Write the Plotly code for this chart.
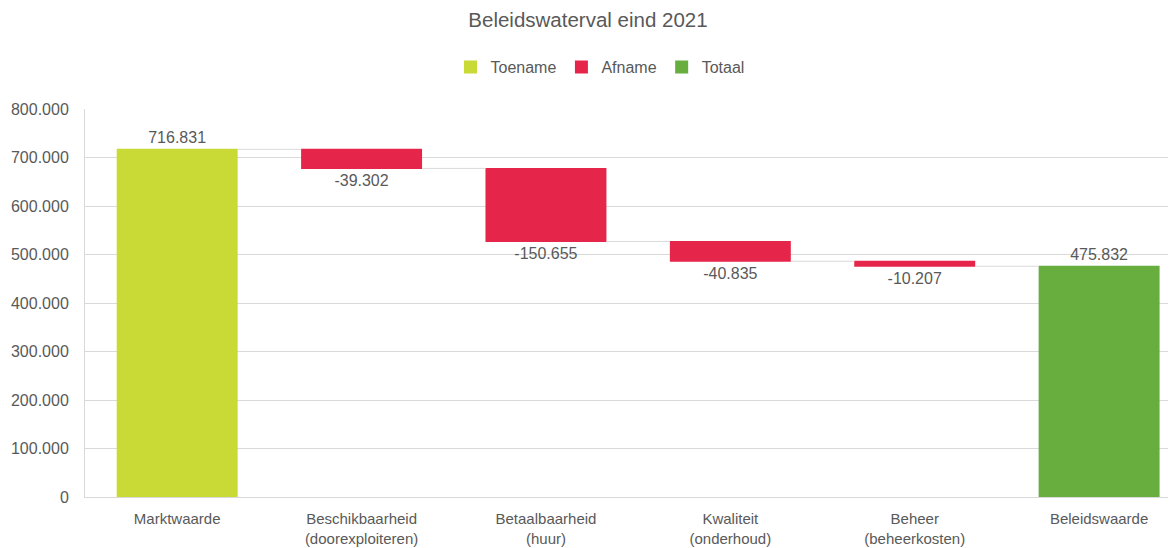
import plotly.graph_objects as go

categories = [
    "Marktwaarde",
    "Beschikbaarheid<br>(doorexploiteren)",
    "Betaalbaarheid<br>(huur)",
    "Kwaliteit<br>(onderhoud)",
    "Beheer<br>(beheerkosten)",
    "Beleidswaarde",
]
values = [716831, -39302, -150655, -40835, -10207, 475832]
measures = ["relative", "relative", "relative", "relative", "relative", "total"]
legend_names = ["Toename", "Afname", "Totaal"]
legend_colors = ["#C9DA37", "#E5264A", "#67AE3F"]
y_ticks = [0, 100000, 200000, 300000, 400000, 500000, 600000, 700000, 800000]

labels = [f"{v:,}".replace(",", ".") for v in values]

TXT = "#595959"
GRID = "#D9D9D9"
FONT = "Liberation Sans, Arial, sans-serif"

# page body has an 8px margin, so the figure is 8px smaller each way
W, H = 1168, 540

fig = go.Figure()
fig.add_trace(go.Waterfall(
    x=categories,
    y=values,
    measure=measures,
    text=labels,
    textposition="outside",
    textfont=dict(color=TXT, size=16, family=FONT),
    cliponaxis=False,
    constraintext="none",
    increasing=dict(marker=dict(color=legend_colors[0])),
    decreasing=dict(marker=dict(color=legend_colors[1])),
    totals=dict(marker=dict(color=legend_colors[2])),
    connector=dict(mode="between", line=dict(color=GRID, width=1)),
    showlegend=False,
))

for name, col in zip(legend_names, legend_colors):
    fig.add_trace(go.Scatter(
        x=[None], y=[None], mode="markers", name=name,
        marker=dict(symbol="square", size=13, color=col),
    ))

fig.update_layout(
    width=W, height=H,
    paper_bgcolor="white", plot_bgcolor="white",
    separators=",.",
    font=dict(family=FONT, color=TXT, size=15),
    title=dict(text="Beleidswaterval eind 2021", x=580 / W, xanchor="center",
               xref="container", yref="container",
               y=1 - 12 / H, yanchor="middle", font=dict(size=20.5, color=TXT),
               automargin=False),
    legend=dict(orientation="h", xref="container", x=592 / W, xanchor="center",
                yref="container", y=1 - 59 / H, yanchor="middle",
                font=dict(size=16, color=TXT), itemwidth=30),
    margin=dict(l=77, r=0, t=101, b=51, autoexpand=False),
    waterfallgap=0.344,
    showlegend=True,
)
fig.update_yaxes(
    range=[0, 800000], tickvals=y_ticks, tickformat=",.0f",
    showgrid=True, gridcolor=GRID, gridwidth=1,
    showline=True, linecolor=GRID, linewidth=1,
    zeroline=False, ticks="", ticklabelstandoff=12,
    tickfont=dict(size=16, color=TXT), automargin=False,
)
fig.update_xaxes(
    range=[-0.5, 5.417], showline=True, linecolor=GRID, linewidth=1,
    ticks="", ticklabelstandoff=8, tickfont=dict(size=15, color=TXT),
    automargin=False,
)

fig.write_html("out.html")
